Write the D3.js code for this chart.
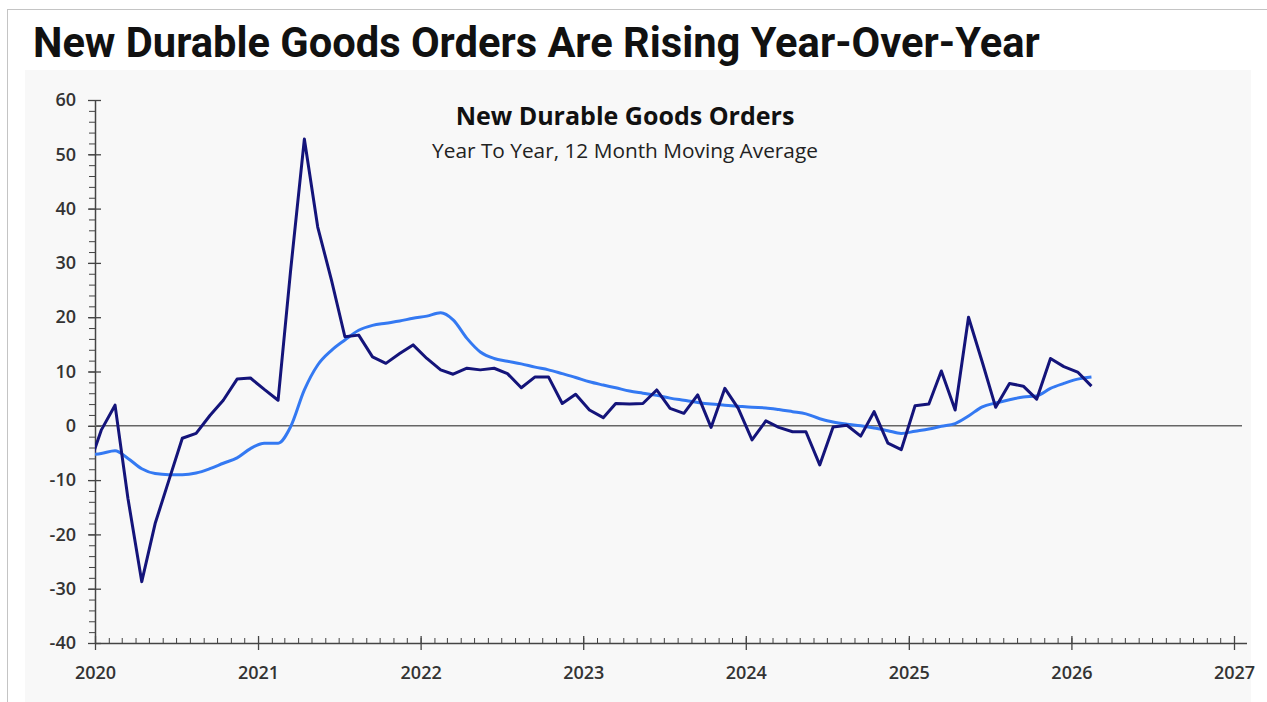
<!DOCTYPE html>
<html>
<head>
<meta charset="utf-8">
<style>
  body { margin: 0; background: #fff; }
  svg { display: block; }
  .tick text { font-family: 'Open Sans', sans-serif; font-weight: 600; fill: #333; }
</style>
</head>
<body>
<svg width="1267" height="702"></svg>
<script src="https://d3js.org/d3.v7.min.js"></script>
<script>
// monthly points, Dec 2019 .. Feb 2026 (first one sits left of the axis and is clipped)
const months = [
  "2019-12",
  "2020-01","2020-02","2020-03","2020-04","2020-05","2020-06","2020-07","2020-08","2020-09","2020-10","2020-11","2020-12",
  "2021-01","2021-02","2021-03","2021-04","2021-05","2021-06","2021-07","2021-08","2021-09","2021-10","2021-11","2021-12",
  "2022-01","2022-02","2022-03","2022-04","2022-05","2022-06","2022-07","2022-08","2022-09","2022-10","2022-11","2022-12",
  "2023-01","2023-02","2023-03","2023-04","2023-05","2023-06","2023-07","2023-08","2023-09","2023-10","2023-11","2023-12",
  "2024-01","2024-02","2024-03","2024-04","2024-05","2024-06","2024-07","2024-08","2024-09","2024-10","2024-11","2024-12",
  "2025-01","2025-02","2025-03","2025-04","2025-05","2025-06","2025-07","2025-08","2025-09","2025-10","2025-11","2025-12",
  "2026-01","2026-02"
]
const yoy = [
  -8.2,
  -0.8, 3.8, -13.4, -28.7, -18.0, -10.0, -2.3, -1.4, 1.9, 4.7, 8.6, 8.8,
  6.7, 4.7, 28.5, 52.8, 36.6, 26.8, 16.4, 16.7, 12.7, 11.5, 13.3, 14.9,
  12.4, 10.3, 9.5, 10.6, 10.3, 10.6, 9.6, 7.0, 9.0, 9.0, 4.1, 5.8,
  2.9, 1.5, 4.1, 4.0, 4.1, 6.6, 3.2, 2.3, 5.7, -0.3, 6.9, 3.2,
  -2.6, 0.9, -0.3, -1.1, -1.1, -7.2, -0.2, 0.1, -1.9, 2.6, -3.2, -4.4,
  3.7, 4.0, 10.1, 2.9, 20.0, 11.7, 3.4, 7.8, 7.3, 4.9, 12.4, 10.9,
  9.9, 7.3
]
const movingAvg = [
  -5.4,
  -5.1, -4.6, -6.0, -7.9, -8.8, -9.0, -9.0, -8.7, -7.9, -6.9, -5.9, -4.2,
  -3.2, -3.2, -0.2, 6.6, 11.2, 13.9, 15.8, 17.6, 18.5, 18.9, 19.3, 19.8,
  20.2, 20.8, 19.5, 16.1, 13.6, 12.4, 11.9, 11.4, 10.8, 10.3, 9.6, 8.9,
  8.1, 7.5, 7.0, 6.4, 6.0, 5.6, 5.1, 4.7, 4.3, 4.0, 3.8, 3.6,
  3.4, 3.3, 3.0, 2.6, 2.2, 1.3, 0.7, 0.3, 0.0, -0.4, -0.9, -1.4,
  -1.0, -0.6, -0.1, 0.4, 1.8, 3.5, 4.2, 4.8, 5.3, 5.5, 6.9, 7.8,
  8.6, 9.0
]
const yTicks = [-40, -30, -20, -10, 0, 10, 20, 30, 40, 50, 60]
const xYears = [2020, 2021, 2022, 2023, 2024, 2025, 2026, 2027]

const mainTitle = "New Durable Goods Orders Are Rising Year-Over-Year"
const chartTitle = "New Durable Goods Orders"
const chartSub = "Year To Year, 12 Month Moving Average"

let svg = d3.select("svg")
let parse = d3.timeParse("%Y-%m-%d")

let plotL = 95, plotR = 1234, plotT = 100, plotB = 643

let x = d3.scaleTime()
    .domain([new Date(2020, 0, 1), new Date(2027, 0, 1)])
    .range([plotL, plotR])
let y = d3.scaleLinear().domain([-40, 60]).range([plotB, plotT])

let data = months.map((m, i) => ({ date: parse(m + "-15"), v: yoy[i], ma: movingAvg[i] }))

// frame + panel
svg.append("rect").attr("x", 7.5).attr("y", 9.5).attr("width", 1270).attr("height", 700)
    .attr("fill", "#fff").attr("stroke", "#c4c4c4")
svg.append("rect").attr("x", 25).attr("y", 70).attr("width", 1226).attr("height", 632)
    .attr("fill", "#f8f8f8")

function fit(sel, w) {
    let len = sel.node().getComputedTextLength()
    let fs = parseFloat(sel.attr("font-size"))
    sel.attr("font-size", fs * w / len)
}

let t1 = svg.append("text").attr("x", 33).attr("y", 57)
    .attr("font-family", "Roboto, sans-serif").attr("font-weight", 700)
    .attr("font-size", 35).attr("fill", "#111").text(mainTitle)
fit(t1, 1007)

let t2 = svg.append("text").attr("x", 625).attr("y", 125).attr("text-anchor", "middle")
    .attr("font-family", "'Open Sans', sans-serif").attr("font-weight", 700)
    .attr("font-size", 20).attr("fill", "#111").text(chartTitle)
fit(t2, 339)

let t3 = svg.append("text").attr("x", 625).attr("y", 158).attr("text-anchor", "middle")
    .attr("font-family", "'Open Sans', sans-serif").attr("font-weight", 400)
    .attr("font-size", 16).attr("fill", "#222").text(chartSub)
fit(t3, 386)

// y axis: minor ticks every 2, majors every 10
let yMinor = svg.append("g").attr("transform", `translate(${plotL},0)`)
    .call(d3.axisLeft(y).tickValues(d3.range(-40, 61, 2)).tickSize(6).tickFormat(""))
yMinor.select(".domain").remove()
yMinor.selectAll("line").attr("stroke", "#444")

let yAxis = svg.append("g").attr("transform", `translate(${plotL},0)`)
    .call(d3.axisLeft(y).tickValues(yTicks).tickSize(7).tickPadding(12).tickSizeOuter(0)
        .tickFormat(d => String(d)))
yAxis.select(".domain").attr("stroke", "#444").attr("stroke-width", 1.5)
yAxis.selectAll(".tick line").attr("x1", 6).attr("stroke", "#444").attr("stroke-width", 1.3)
yAxis.selectAll(".tick text").attr("font-size", 18)

// x axis: monthly minor ticks, yearly majors
let xMinor = svg.append("g").attr("transform", `translate(0,${plotB})`)
    .call(d3.axisTop(x).ticks(d3.timeMonth.every(1)).tickSize(5).tickFormat(""))
xMinor.select(".domain").remove()
xMinor.selectAll("line").attr("stroke", "#444")

let xAxis = svg.append("g").attr("transform", `translate(0,${plotB})`)
    .call(d3.axisBottom(x).tickValues(xYears.map(yr => new Date(yr, 0, 1)))
        .tickFormat(d3.timeFormat("%Y")).tickSize(7).tickPadding(16).tickSizeOuter(0))
xAxis.select(".domain").attr("d", `M${plotL},0.5H1247`).attr("stroke", "#444").attr("stroke-width", 1.5)
xAxis.selectAll(".tick line").attr("y1", -7).attr("stroke", "#444").attr("stroke-width", 1.3)
xAxis.selectAll(".tick text").attr("font-size", 18)

// zero line
svg.append("line").attr("x1", plotL).attr("x2", 1242).attr("y1", y(0)).attr("y2", y(0))
    .attr("stroke", "#666").attr("stroke-width", 1.6)

svg.append("clipPath").attr("id", "plot")
    .append("rect").attr("x", plotL).attr("y", 60).attr("width", 1150).attr("height", 600)

let lineYoy = d3.line().x(d => x(d.date)).y(d => y(d.v))
let lineMa = d3.line().x(d => x(d.date)).y(d => y(d.ma)).curve(d3.curveMonotoneX)

let lines = svg.append("g").attr("clip-path", "url(#plot)")
lines.append("path").datum(data).attr("d", lineMa)
    .attr("fill", "none").attr("stroke", "#3479f2").attr("stroke-width", 3)
    .attr("stroke-linejoin", "round")
lines.append("path").datum(data).attr("d", lineYoy)
    .attr("fill", "none").attr("stroke", "#14147a").attr("stroke-width", 3)
    .attr("stroke-linejoin", "round")
</script>
</body>
</html>
